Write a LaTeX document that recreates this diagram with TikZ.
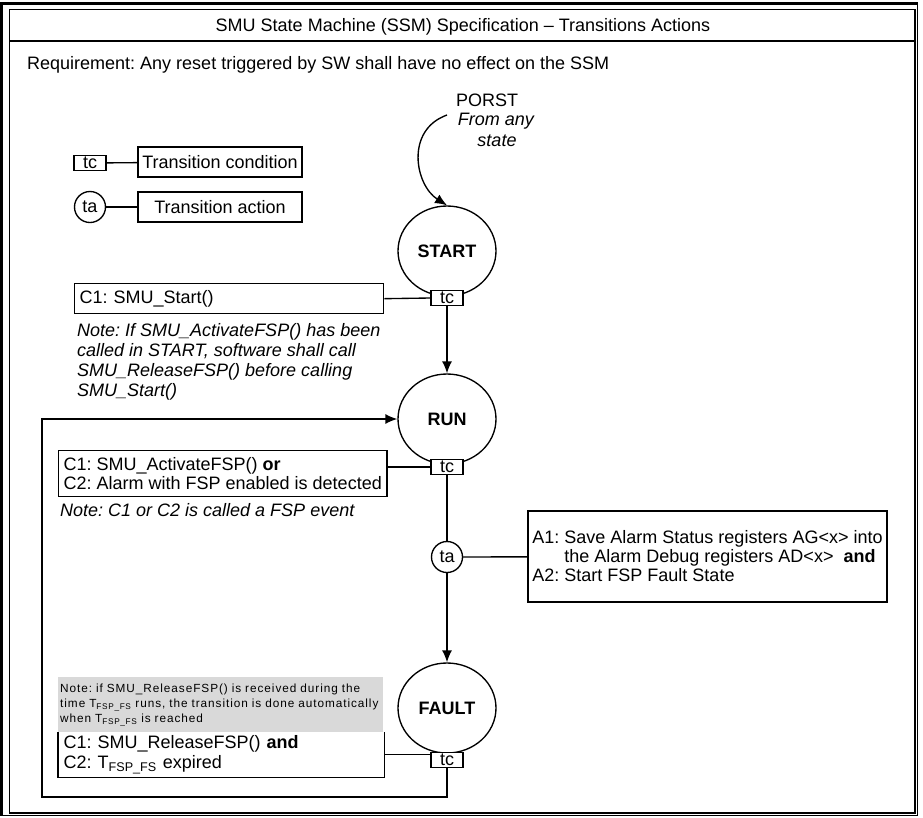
\documentclass[tikz,border=0pt]{standalone}
\usepackage{fontspec}
\setmainfont{Liberation Sans}
\newfontfamily\notefont[LetterSpace=8]{Liberation Sans}
\usetikzlibrary{arrows.meta,shapes.geometric}
\frenchspacing
\begin{document}
\begin{tikzpicture}[x=1pt,y=-1pt,
  every node/.style={font=\fontsize{18}{20}\selectfont},
  ln/.style={line width=1.35pt},
  state/.style={draw, ellipse, line width=1.35pt, minimum width=98pt, minimum height=90pt, inner sep=0pt, font=\fontsize{18}{20}\selectfont\bfseries},
  tcbox/.style={draw, fill=white, line width=1.35pt, minimum width=32pt, minimum height=15pt, inner sep=0pt},
  tacirc/.style={draw, circle, fill=white, line width=1.35pt, minimum size=31pt, inner sep=0pt},
  legbox/.style={draw, line width=1.35pt, minimum width=164pt, minimum height=30pt, inner sep=0pt},
  condbox/.style={line width=1.35pt, inner xsep=5pt, inner ysep=0pt, align=left, anchor=north west},
  note/.style={font=\fontsize{18}{20}\selectfont\itshape, inner sep=0pt, align=left, anchor=west},
  arr/.style={-{Latex[length=12pt,width=10pt]}, line width=1.35pt},
  ]
\useasboundingbox (0,0) rectangle (923,817);
% frame
\draw[line width=1.2pt] (2,3.5) rectangle (917.5,815.5);
\draw[line width=2.5pt] (1.5,815.5) -- (1.5,3.5) -- (917.5,3.5);
\draw[ln] (9.5,9.5) rectangle (915,813);
\draw[ln] (9.5,41) -- (915,41);
\node (title) at (463,27) {SMU State Machine (SSM) Specification – Transitions Actions};
\node[anchor=west, inner sep=0pt] (req) at (27,65) {Requirement: Any reset triggered by SW shall have no effect on the SSM};
% legend
\node[tcbox] (ltc) at (90,163) {tc};
\node[legbox] (ltcbox) at (220,162) {Transition condition};
\draw[ln] (ltc) -- (ltcbox);
\node[tacirc] (lta) at (90,207) {ta};
\node[legbox] (ltabox) at (220,207) {Transition action};
\draw[ln] (lta) -- (ltabox);
% PORST
\node (porst) at (487,100) {PORST};
\node[font=\fontsize{18}{20}\selectfont\itshape] (fromany) at (496,121) {From any};
\node[font=\fontsize{18}{20}\selectfont\itshape] (fstate) at (497,141) {state};
\coordinate (pstart) at (447,115);
% states
\node[state] (start) at (447,251) {START};
\node[state] (run) at (447,419) {RUN};
\node[state] (fault) at (447,708) {FAULT};
\draw[arr] (pstart) .. controls (405,130) and (415,185) .. (start.north);
% START -> RUN
\node[tcbox] (tc1) at (447,298) {tc};
\node[condbox, draw, text width=299pt, minimum height=30pt] (c1box) at (74,283) {C1: SMU\_Start()};
\draw[ln] (c1box.east) -- (tc1.west);
\node[note] (note1) at (77,362) {Note: If SMU\_ActivateFSP() has been\\called in START, software shall call\\SMU\_ReleaseFSP() before calling\\SMU\_Start()};
\draw[arr] (tc1) -- (run);
% RUN -> FAULT
\node[tcbox] (tc2) at (447,467) {tc};
\node[condbox, draw, minimum width=325pt, minimum height=46pt, font=\fontsize{18}{19}\selectfont] (c2box) at (58,450) {C1: SMU\_ActivateFSP() \textbf{or}\\C2: Alarm with FSP enabled is detected};
\draw[ln] (tc2.west) -- (tc2.west -| c2box.east);
\node[note] (note2) at (60,510) {Note: C1 or C2 is called a FSP event};
\node[tacirc] (ta) at (447,557) {ta};
\draw[ln] (tc2) -- (ta);
\draw[arr] (ta) -- (fault);
\node[draw, line width=1.35pt, minimum width=359pt, minimum height=91pt, inner sep=0pt, align=left, font=\fontsize{18}{19}\selectfont] (actbox) at (707.5,556.5) {A1: Save Alarm Status registers AG<x> into\\\hspace*{32pt}the Alarm Debug registers AD<x> \ \textbf{and}\\A2: Start FSP Fault State};
\draw[ln] (ta) -- (actbox);
% FAULT -> RUN
\node[fill={rgb,255:red,217;green,217;blue,217}, minimum width=325pt, minimum height=55pt, text width=321pt, inner xsep=2pt, inner ysep=0pt, anchor=north west, align=left, font=\notefont\fontsize{11.8}{15}\selectfont] (gnote) at (58,677) {Note: if SMU\_ReleaseFSP() is received during the\\time T\textsubscript{FSP\_FS} runs, the transition is done automatically\\when T\textsubscript{FSP\_FS} is reached};
\node[condbox, text width=315pt, minimum height=44pt] (c3box) at (58,732) {C1: SMU\_ReleaseFSP() \textbf{and}\\C2: T\textsubscript{FSP\_FS} expired};
\draw[ln] (c3box.north west) -- (c3box.south west) -- (c3box.south east) -- (c3box.north east);
\node[tcbox] (tc3) at (447,760) {tc};
\draw[ln] (c3box.east) -- (c3box.east -| tc3.west);
\coordinate (lbr) at (447,797);
\coordinate (lbl) at (42,797);
\draw[arr] (tc3) -- (lbr) -- (lbl) |- (run);
\end{tikzpicture}
\end{document}
